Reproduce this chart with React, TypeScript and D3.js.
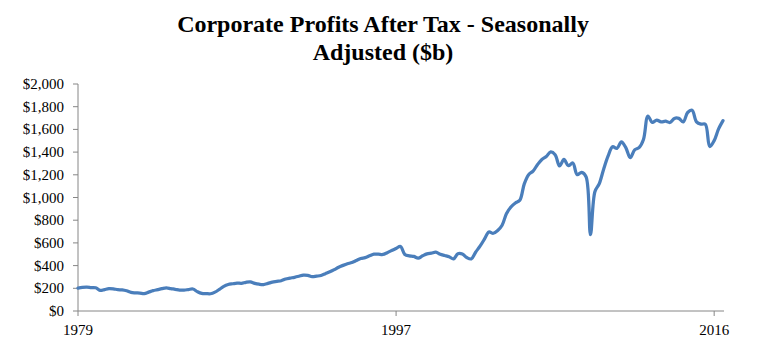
import React from "react";
import * as d3 from "d3";

const profits: number[] = [
  202, 209, 211, 207, 205, 181, 189, 197, 195, 188,
  186, 178, 164, 160, 158, 153, 166, 179, 188, 197,
  204, 197, 191, 184, 184, 189, 194, 171, 155, 153,
  152, 166, 191, 217, 233, 240, 246, 244, 253, 257,
  244, 236, 233, 243, 255, 261, 267, 282, 290, 297,
  306, 316, 314, 302, 307, 313, 329, 345, 364, 386,
  402, 416, 427, 445, 463, 470, 486, 501, 501, 498,
  514, 533, 551, 569, 497, 486, 481, 466, 486, 503,
  510, 518, 500, 489, 478, 459, 505, 502, 471, 459,
  518, 571, 633, 696, 685, 709, 756, 859, 916, 952,
  975, 1118, 1201, 1232, 1289, 1335, 1361, 1402, 1377, 1278,
  1335, 1280, 1304, 1201, 1221, 1183, 673, 1051, 1123, 1252,
  1366, 1447, 1433, 1490, 1439, 1351, 1420, 1439, 1511, 1718,
  1661, 1682, 1666, 1672, 1661, 1697, 1697, 1666, 1749, 1768,
  1666, 1646, 1646, 1449, 1501, 1604, 1677,
];

const xTickLabels: string[] = ["1979", "1997", "2016"];
const xTickIndex: number[] = [0, 72, 144];
const yTicks: number[] = [0, 200, 400, 600, 800, 1000, 1200, 1400, 1600, 1800, 2000];
const titleLines: string[] = ["Corporate Profits After Tax - Seasonally", "Adjusted ($b)"];

export default function App() {
  const W = 763;
  const H = 355;
  const left = 78;
  const right = 723;
  const top = 84;
  const bottom = 311;

  const x = d3.scaleLinear().domain([0, profits.length - 1]).range([left, right]);
  const y = d3.scaleLinear().domain([0, 2000]).range([bottom, top]);
  const fmt = d3.format("$,");

  const line = d3
    .line<number>()
    .x((_, i) => x(i))
    .y((d) => y(d))
    .curve(d3.curveCatmullRom.alpha(0.5));

  const axisColor = "#868686";
  const font = "'Liberation Serif', 'Times New Roman', serif";

  return (
    <svg
      width={W}
      height={H}
      style={{ position: "absolute", left: 0, top: 0, background: "#fff" }}
    >
      {titleLines.map((t, i) => (
        <text
          key={t}
          x={383}
          y={32 + i * 28}
          textAnchor="middle"
          fontFamily={font}
          fontWeight="bold"
          fontSize={24}
          fill="#000"
        >
          {t}
        </text>
      ))}
      {/* y axis */}
      <line x1={left} x2={left} y1={top} y2={bottom} stroke={axisColor} strokeWidth={1} />
      {yTicks.map((v) => (
        <g key={v}>
          <line x1={left - 5} x2={left} y1={y(v)} y2={y(v)} stroke={axisColor} strokeWidth={1} />
          <text
            x={left - 14}
            y={y(v) + 5}
            textAnchor="end"
            fontFamily={font}
            fontSize={15}
            fill="#000"
          >
            {fmt(v)}
          </text>
        </g>
      ))}
      {/* x axis */}
      <line x1={left} x2={right + 1} y1={bottom} y2={bottom} stroke={axisColor} strokeWidth={1} />
      {xTickIndex.map((idx, i) => (
        <g key={idx}>
          <line x1={x(idx)} x2={x(idx)} y1={bottom} y2={bottom + 5} stroke={axisColor} strokeWidth={1} />
          <text
            x={x(idx)}
            y={bottom + 24}
            textAnchor="middle"
            fontFamily={font}
            fontSize={15}
            fill="#000"
          >
            {xTickLabels[i]}
          </text>
        </g>
      ))}
      <path
        d={line(profits) || ""}
        fill="none"
        stroke="#4A7EBB"
        strokeWidth={3.25}
        strokeLinejoin="round"
        strokeLinecap="round"
      />
    </svg>
  );
}
